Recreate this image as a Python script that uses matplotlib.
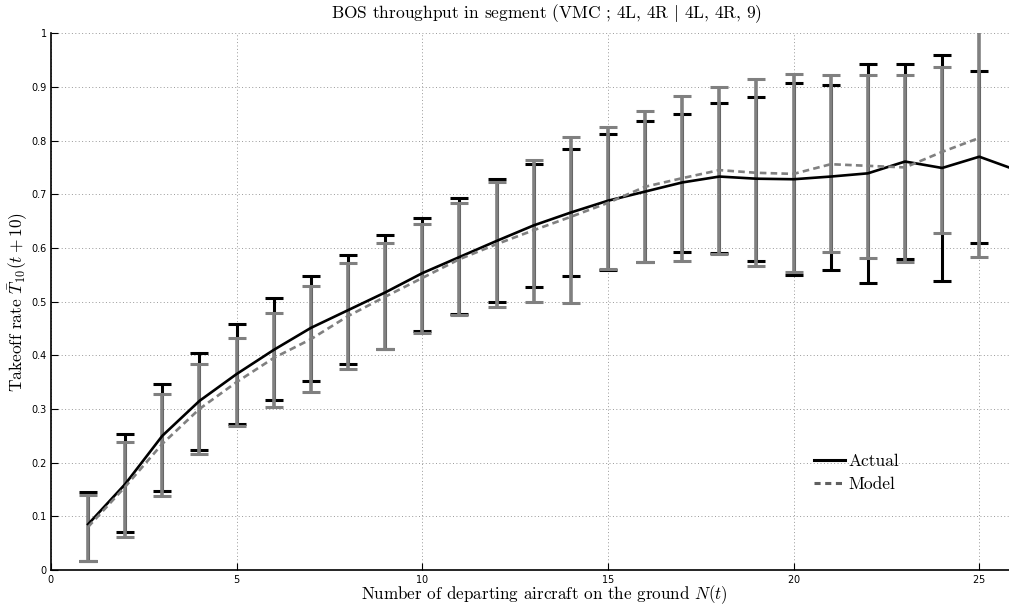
import numpy as np
import matplotlib
matplotlib.use('Agg')
import matplotlib.pyplot as plt
from matplotlib.lines import Line2D

plt.rcParams['mathtext.fontset'] = 'cm'
plt.rcParams['axes.formatter.use_mathtext'] = True

# number of departing aircraft on the ground
n_actual = [1, 2, 3, 4, 5, 6, 7, 8, 9, 10, 11, 12, 13, 14, 15, 16, 17, 18, 19, 20, 21, 22, 23, 24, 25, 26]
n_model = [1, 2, 3, 4, 5, 6, 7, 8, 9, 10, 11, 12, 13, 14, 15, 16, 17, 18, 19, 20, 21, 22, 23, 24, 25]

actual_mean = [0.085, 0.160, 0.250, 0.315, 0.365, 0.410, 0.451, 0.484, 0.517, 0.553, 0.583, 0.613, 0.642,
               0.666, 0.688, 0.705, 0.722, 0.733, 0.729, 0.728, 0.733, 0.739, 0.761, 0.749, 0.770, 0.745]
actual_hi = [0.145, 0.253, 0.346, 0.405, 0.458, 0.507, 0.548, 0.587, 0.624, 0.655, 0.693, 0.729, 0.756,
             0.784, 0.812, 0.836, 0.850, 0.871, 0.882, 0.907, 0.904, 0.942, 0.943, 0.960, 0.930]
actual_lo = [0.017, 0.070, 0.147, 0.223, 0.271, 0.317, 0.352, 0.383, 0.412, 0.446, 0.477, 0.499, 0.527,
             0.548, 0.559, 0.574, 0.592, 0.591, 0.575, 0.550, 0.559, 0.535, 0.579, 0.538, 0.609]

model_mean = [0.080, 0.155, 0.235, 0.300, 0.350, 0.395, 0.430, 0.473, 0.509, 0.544, 0.579, 0.607, 0.633,
              0.658, 0.684, 0.714, 0.730, 0.745, 0.740, 0.738, 0.756, 0.753, 0.750, 0.779, 0.805]
model_hi = [0.140, 0.238, 0.327, 0.384, 0.432, 0.479, 0.529, 0.571, 0.609, 0.645, 0.684, 0.723, 0.764,
            0.806, 0.825, 0.856, 0.884, 0.900, 0.915, 0.925, 0.922, 0.922, 0.922, 0.937, 1.030]
model_lo = [0.017, 0.062, 0.138, 0.216, 0.268, 0.304, 0.332, 0.374, 0.411, 0.442, 0.475, 0.490, 0.499,
            0.497, 0.560, 0.573, 0.576, 0.589, 0.567, 0.555, 0.592, 0.582, 0.573, 0.627, 0.584]

fig = plt.figure(figsize=(10.09, 6.05), dpi=100)
ax = fig.add_axes([0.0505, 0.058, 0.9495, 0.887])

# error bars: actual (black) under model (gray)
xa = np.array(n_actual[:len(actual_hi)])
ma = np.array(actual_mean[:len(actual_hi)])
ax.errorbar(xa, ma, yerr=[ma - np.array(actual_lo), np.array(actual_hi) - ma],
            fmt='none', ecolor='black', elinewidth=2.2, capsize=6.5, capthick=2.2, zorder=2)
xm = np.array(n_model)
mm = np.array(model_mean)
ax.errorbar(xm, mm, yerr=[mm - np.array(model_lo), np.array(model_hi) - mm],
            fmt='none', ecolor='#808080', elinewidth=2.6, capsize=6.5, capthick=2.2, zorder=3)

ax.plot(n_actual, actual_mean, color='black', lw=1.9, zorder=4)
ax.plot(n_model, model_mean, color='#808080', lw=1.9, ls=(0, (2.5, 1.6)), zorder=5)

ax.set_xlim(0, 25.8)
ax.set_ylim(0, 1)
ax.set_xticks([0, 5, 10, 15, 20, 25])
ax.set_yticks(np.arange(0, 1.01, 0.1))
ax.set_yticklabels(['0', '0.1', '0.2', '0.3', '0.4', '0.5', '0.6', '0.7', '0.8', '0.9', '1'])
ax.tick_params(direction='in', length=5, width=0.8, labelsize=7, pad=3)
ax.tick_params(axis='x', pad=2)
for lab in ax.get_xticklabels() + ax.get_yticklabels():
    lab.set_family('DejaVu Sans')
ax.grid(True, color='#999999', ls=(0, (1, 2.5)), lw=0.7)
ax.spines['top'].set_visible(False)
ax.spines['right'].set_visible(False)
ax.spines['left'].set_linewidth(1.2)
ax.spines['bottom'].set_linewidth(1.2)

serif = ['cmr10', 'DejaVu Serif']
ax.set_title(r'BOS throughput in segment (VMC ; 4L, 4R $|$ 4L, 4R, 9)',
             family=serif, fontsize=12.5, pad=11, x=0.517)
ax.set_xlabel(r'Number of departing aircraft on the ground $N(t)$', family=serif, fontsize=12.3)
ax.xaxis.set_label_coords(0.515, -0.0245)
ax.set_ylabel(r'Takeoff rate $\bar{T}_{10}(t+10)$', family=serif, fontsize=12.5, labelpad=1)

handles = [Line2D([], [], color='black', lw=2.2),
           Line2D([], [], color='#606060', lw=2.2, ls=(0, (2, 1.5)))]
ax.legend(handles, ['Actual', 'Model'], loc='center left', bbox_to_anchor=(0.787, 0.181),
          frameon=False, prop={'family': serif, 'size': 12.5}, handlelength=1.8,
          handletextpad=0.2, borderpad=0, labelspacing=0.4)

fig.savefig('out.png', dpi=100)
